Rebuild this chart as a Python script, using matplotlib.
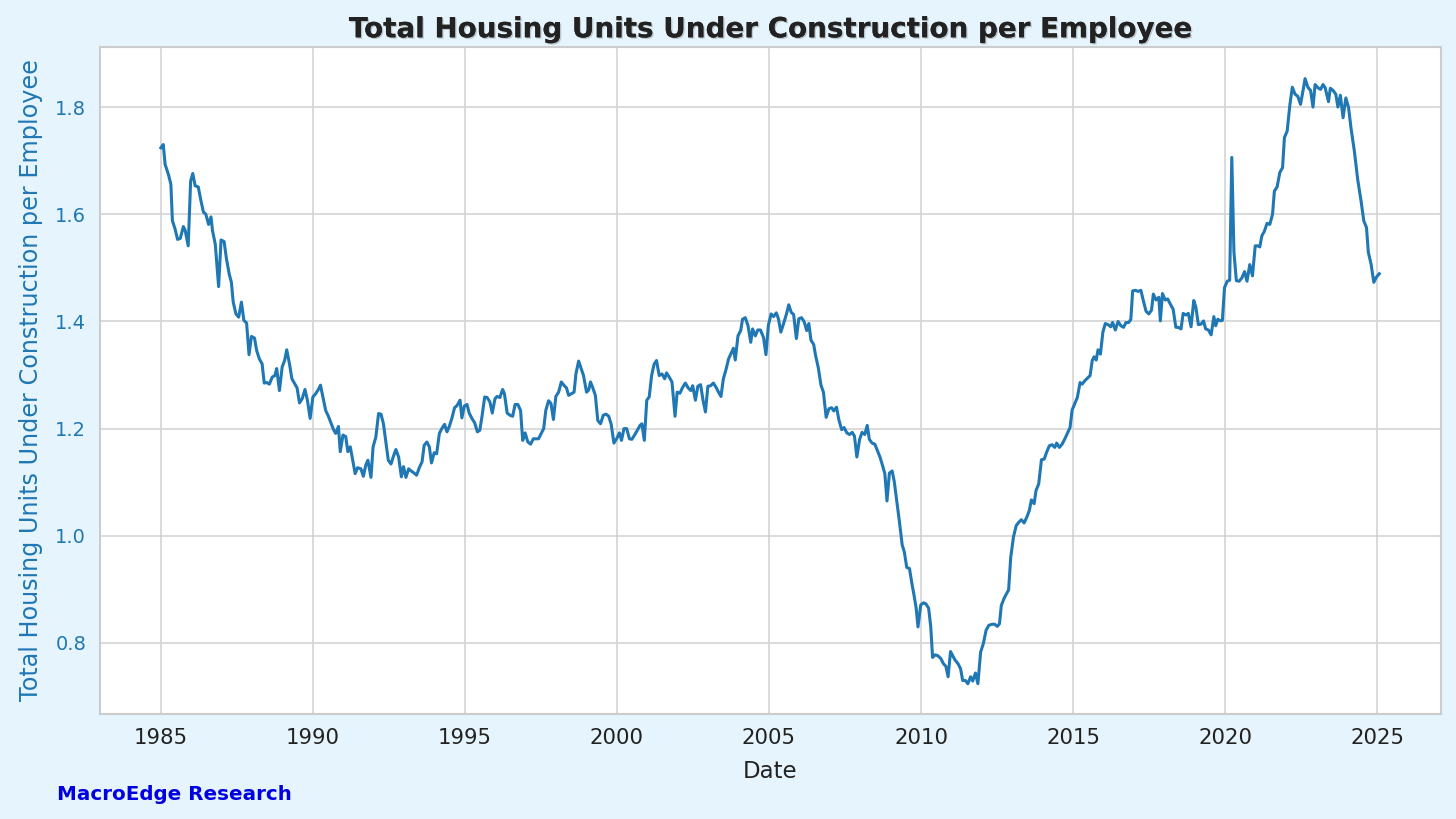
import numpy as np
import matplotlib.pyplot as plt
import matplotlib.patheffects as pe

# -----------------------------
# Data (decimal year, units under construction per employee)
# -----------------------------
yrs_1985 = [1985.00, 1985.08, 1985.14, 1985.25, 1985.33, 1985.38, 1985.47, 1985.55, 1985.64, 1985.74,
            1985.80, 1985.90, 1985.98, 1986.05, 1986.13, 1986.23, 1986.32, 1986.40, 1986.48, 1986.57,
            1986.65, 1986.70, 1986.79, 1986.90, 1986.98, 1987.08, 1987.16, 1987.25, 1987.32, 1987.38,
            1987.47, 1987.56, 1987.65, 1987.73, 1987.82, 1987.90, 1987.98, 1988.08, 1988.15, 1988.24,
            1988.33, 1988.40, 1988.48, 1988.57, 1988.66, 1988.75, 1988.81, 1988.90, 1988.99, 1989.07,
            1989.14, 1989.23, 1989.31, 1989.40, 1989.48, 1989.56, 1989.65, 1989.74, 1989.82, 1989.91,
            1990.00, 1990.09, 1990.18, 1990.25, 1990.33, 1990.42, 1990.51, 1990.59, 1990.68, 1990.75,
            1990.84, 1990.90, 1990.99, 1991.08, 1991.15, 1991.23]
val_1985 = [1.724, 1.730, 1.693, 1.674, 1.656, 1.588, 1.572, 1.553, 1.555, 1.577,
            1.570, 1.541, 1.662, 1.676, 1.653, 1.651, 1.625, 1.604, 1.600, 1.581,
            1.595, 1.569, 1.544, 1.465, 1.552, 1.549, 1.516, 1.488, 1.473, 1.436,
            1.414, 1.408, 1.436, 1.402, 1.397, 1.338, 1.372, 1.369, 1.346, 1.330,
            1.321, 1.285, 1.286, 1.283, 1.296, 1.299, 1.312, 1.271, 1.315, 1.327,
            1.347, 1.321, 1.293, 1.284, 1.276, 1.248, 1.256, 1.273, 1.253, 1.219,
            1.259, 1.265, 1.273, 1.281, 1.259, 1.234, 1.223, 1.211, 1.198, 1.191,
            1.204, 1.157, 1.188, 1.185, 1.157, 1.166]

yrs_1991 = [1991.39, 1991.47, 1991.58, 1991.66, 1991.74, 1991.81, 1991.91, 1991.98, 1992.07, 1992.16,
            1992.24, 1992.32, 1992.40, 1992.48, 1992.57, 1992.64, 1992.73, 1992.82, 1992.91, 1992.98,
            1993.06, 1993.15, 1993.23, 1993.33, 1993.41, 1993.50, 1993.59, 1993.66, 1993.75, 1993.83,
            1993.90, 1993.99, 1994.07, 1994.16, 1994.24, 1994.33, 1994.41, 1994.48, 1994.57, 1994.66,
            1994.74, 1994.84, 1994.90, 1994.98, 1995.07, 1995.14, 1995.23, 1995.32, 1995.41, 1995.49,
            1995.56, 1995.65, 1995.73, 1995.82, 1995.90, 1995.99, 1996.06, 1996.15, 1996.24, 1996.30,
            1996.39, 1996.48, 1996.57, 1996.65, 1996.74, 1996.83, 1996.90, 1996.98, 1997.07, 1997.16,
            1997.25, 1997.34, 1997.42, 1997.51, 1997.59, 1997.66, 1997.75, 1997.83, 1997.91]
val_1991 = [1.116, 1.127, 1.125, 1.111, 1.132, 1.141, 1.109, 1.166, 1.184, 1.228,
            1.227, 1.209, 1.175, 1.141, 1.134, 1.147, 1.161, 1.147, 1.110, 1.129,
            1.109, 1.125, 1.121, 1.117, 1.113, 1.127, 1.138, 1.169, 1.175, 1.166,
            1.136, 1.155, 1.153, 1.191, 1.200, 1.208, 1.194, 1.203, 1.219, 1.239,
            1.243, 1.253, 1.220, 1.242, 1.245, 1.229, 1.219, 1.211, 1.194, 1.197,
            1.222, 1.259, 1.258, 1.250, 1.229, 1.256, 1.260, 1.258, 1.273, 1.265,
            1.229, 1.225, 1.223, 1.245, 1.245, 1.234, 1.178, 1.192, 1.175, 1.171,
            1.181, 1.181, 1.181, 1.191, 1.200, 1.234, 1.252, 1.247, 1.217]

yrs_1998 = [1997.99, 1998.08, 1998.17, 1998.27, 1998.34, 1998.41, 1998.50, 1998.59, 1998.65, 1998.74,
            1998.83, 1998.90, 1999.00, 1999.07, 1999.13, 1999.20, 1999.29, 1999.37, 1999.46, 1999.55,
            1999.64, 1999.73, 1999.81, 1999.90, 1999.99, 2000.08, 2000.15, 2000.23, 2000.32, 2000.41,
            2000.49, 2000.58, 2000.67, 2000.76, 2000.82, 2000.90, 2000.98, 2001.06, 2001.14, 2001.22,
            2001.30, 2001.39, 2001.48, 2001.57, 2001.63, 2001.72, 2001.81, 2001.91, 2001.98, 2002.07,
            2002.16, 2002.25, 2002.34, 2002.43, 2002.49, 2002.58, 2002.66, 2002.75, 2002.83, 2002.91,
            2002.99, 2003.08, 2003.17, 2003.26, 2003.34, 2003.42, 2003.50, 2003.59, 2003.67, 2003.76,
            2003.83, 2003.89, 2003.98, 2004.07, 2004.13, 2004.22, 2004.31, 2004.40, 2004.46, 2004.55,
            2004.63, 2004.72, 2004.82, 2004.90]
val_1998 = [1.260, 1.268, 1.287, 1.280, 1.276, 1.262, 1.265, 1.268, 1.302, 1.326,
            1.311, 1.299, 1.268, 1.272, 1.287, 1.277, 1.262, 1.215, 1.209, 1.225,
            1.227, 1.223, 1.208, 1.173, 1.181, 1.192, 1.178, 1.200, 1.200, 1.181,
            1.180, 1.188, 1.197, 1.206, 1.209, 1.178, 1.253, 1.259, 1.299, 1.320,
            1.327, 1.299, 1.302, 1.293, 1.304, 1.296, 1.287, 1.223, 1.268, 1.266,
            1.277, 1.285, 1.276, 1.271, 1.280, 1.253, 1.279, 1.282, 1.253, 1.231,
            1.279, 1.280, 1.285, 1.277, 1.268, 1.260, 1.293, 1.311, 1.330, 1.341,
            1.350, 1.328, 1.373, 1.383, 1.404, 1.407, 1.392, 1.361, 1.386, 1.373,
            1.384, 1.384, 1.370, 1.338]

yrs_2005 = [2004.98, 2005.07, 2005.15, 2005.24, 2005.31, 2005.39, 2005.48, 2005.57, 2005.65, 2005.73,
            2005.81, 2005.90, 2005.98, 2006.07, 2006.16, 2006.24, 2006.31, 2006.38, 2006.47, 2006.53,
            2006.62, 2006.71, 2006.79, 2006.88, 2006.97, 2007.06, 2007.13, 2007.22, 2007.30, 2007.39,
            2007.47, 2007.56, 2007.65, 2007.74, 2007.81, 2007.89, 2007.98, 2008.06, 2008.15, 2008.23,
            2008.30, 2008.39, 2008.48, 2008.57, 2008.65, 2008.73, 2008.81, 2008.88, 2008.96, 2009.05,
            2009.12, 2009.20, 2009.29, 2009.38, 2009.45, 2009.53, 2009.62, 2009.69, 2009.77, 2009.84,
            2009.90, 2009.99, 2010.08, 2010.16, 2010.25, 2010.32, 2010.38, 2010.47, 2010.56, 2010.65,
            2010.73, 2010.82, 2010.89, 2010.97]
val_2005 = [1.393, 1.414, 1.409, 1.416, 1.405, 1.380, 1.396, 1.413, 1.431, 1.417,
            1.413, 1.368, 1.405, 1.407, 1.399, 1.383, 1.396, 1.365, 1.357, 1.337,
            1.314, 1.281, 1.268, 1.221, 1.237, 1.239, 1.233, 1.240, 1.216, 1.198,
            1.202, 1.192, 1.189, 1.193, 1.186, 1.147, 1.180, 1.193, 1.189, 1.206,
            1.180, 1.173, 1.171, 1.158, 1.147, 1.132, 1.116, 1.065, 1.117, 1.121,
            1.101, 1.066, 1.026, 0.983, 0.970, 0.941, 0.939, 0.914, 0.889, 0.865,
            0.830, 0.871, 0.875, 0.873, 0.865, 0.830, 0.773, 0.778, 0.776, 0.771,
            0.762, 0.756, 0.737, 0.784]

yrs_2011 = [2011.11, 2011.22, 2011.30, 2011.37, 2011.46, 2011.54, 2011.63, 2011.70, 2011.79, 2011.87,
            2011.96, 2012.05, 2012.14, 2012.23, 2012.34, 2012.42, 2012.51, 2012.58, 2012.64, 2012.73,
            2012.82, 2012.88, 2012.95, 2013.04, 2013.13, 2013.21, 2013.30, 2013.39, 2013.48, 2013.56,
            2013.63, 2013.72, 2013.78, 2013.87, 2013.96, 2014.05, 2014.13, 2014.22, 2014.31, 2014.40,
            2014.46, 2014.55, 2014.64, 2014.73, 2014.81, 2014.90, 2014.97, 2015.05, 2015.14, 2015.23,
            2015.30, 2015.38, 2015.47, 2015.56, 2015.63, 2015.69, 2015.76, 2015.82, 2015.90, 2015.98,
            2016.06, 2016.15, 2016.24, 2016.30, 2016.39, 2016.48, 2016.57, 2016.66, 2016.74, 2016.83,
            2016.90, 2016.96, 2017.05, 2017.14, 2017.23, 2017.31, 2017.40, 2017.49, 2017.58, 2017.64,
            2017.73, 2017.82]
val_2011 = [0.769, 0.761, 0.752, 0.730, 0.730, 0.724, 0.737, 0.729, 0.744, 0.724,
            0.783, 0.799, 0.824, 0.833, 0.835, 0.835, 0.831, 0.836, 0.870, 0.883,
            0.893, 0.899, 0.960, 0.998, 1.019, 1.025, 1.030, 1.024, 1.035, 1.047,
            1.067, 1.060, 1.084, 1.097, 1.142, 1.143, 1.156, 1.168, 1.170, 1.165,
            1.173, 1.165, 1.171, 1.181, 1.191, 1.202, 1.235, 1.246, 1.258, 1.286,
            1.283, 1.289, 1.294, 1.299, 1.327, 1.334, 1.328, 1.347, 1.339, 1.380,
            1.396, 1.394, 1.390, 1.398, 1.384, 1.400, 1.392, 1.389, 1.398, 1.398,
            1.404, 1.457, 1.458, 1.456, 1.458, 1.439, 1.419, 1.414, 1.421, 1.451,
            1.440, 1.445]

yrs_2018 = [2017.87, 2017.94, 2018.03, 2018.11, 2018.20, 2018.29, 2018.38, 2018.46, 2018.55, 2018.62,
            2018.71, 2018.79, 2018.88, 2018.97, 2019.04, 2019.12, 2019.21, 2019.29, 2019.36, 2019.45,
            2019.54, 2019.63, 2019.69, 2019.76, 2019.85, 2019.91, 2019.98, 2020.07, 2020.15, 2020.22,
            2020.29, 2020.37, 2020.46, 2020.55, 2020.64, 2020.72, 2020.81, 2020.90, 2020.99, 2021.07,
            2021.14, 2021.21, 2021.29, 2021.38, 2021.47, 2021.56, 2021.62, 2021.71, 2021.80, 2021.89,
            2021.95, 2022.04, 2022.13, 2022.21, 2022.30, 2022.39, 2022.48, 2022.57, 2022.63, 2022.72,
            2022.81, 2022.89, 2022.96, 2023.05, 2023.14, 2023.22, 2023.29, 2023.40, 2023.46, 2023.55,
            2023.64, 2023.71, 2023.79, 2023.88, 2023.97, 2024.06, 2024.14, 2024.25, 2024.36, 2024.47,
            2024.56, 2024.65, 2024.71, 2024.80, 2024.89, 2024.98, 2025.07]
val_2018 = [1.401, 1.452, 1.440, 1.442, 1.432, 1.423, 1.389, 1.389, 1.386, 1.415,
            1.412, 1.415, 1.390, 1.439, 1.426, 1.394, 1.395, 1.401, 1.386, 1.384,
            1.375, 1.409, 1.392, 1.404, 1.401, 1.402, 1.463, 1.475, 1.477, 1.706,
            1.530, 1.476, 1.475, 1.481, 1.493, 1.475, 1.506, 1.485, 1.541, 1.541,
            1.539, 1.560, 1.568, 1.583, 1.581, 1.600, 1.643, 1.651, 1.678, 1.687,
            1.743, 1.755, 1.804, 1.837, 1.824, 1.820, 1.805, 1.833, 1.853, 1.837,
            1.831, 1.800, 1.842, 1.836, 1.833, 1.842, 1.836, 1.810, 1.835, 1.831,
            1.824, 1.800, 1.822, 1.780, 1.817, 1.799, 1.761, 1.718, 1.665, 1.625,
            1.588, 1.575, 1.529, 1.507, 1.473, 1.483, 1.489]

years = np.array(yrs_1985 + yrs_1991 + yrs_1998 + yrs_2005 + yrs_2011 + yrs_2018)
values = np.array(val_1985 + val_1991 + val_1998 + val_2005 + val_2011 + val_2018)

x_ticks = [1985, 1990, 1995, 2000, 2005, 2010, 2015, 2020, 2025]
y_ticks = [0.8, 1.0, 1.2, 1.4, 1.6, 1.8]

# -----------------------------
# Style
# -----------------------------
bg = '#e6f5fd'
blue = '#1f77b4'
grid_c = '#d4d4d4'

fig = plt.figure(figsize=(14.56, 8.19), dpi=100, facecolor=bg)
ax = fig.add_axes([0.0687, 0.1282, 0.921, 0.8144])
ax.set_facecolor('white')

ax.plot(years, values, color=blue, linewidth=2.2)

ax.set_xlim(1983.0, 2027.1)
ax.set_ylim(0.6675, 1.912)
ax.set_xticks(x_ticks)
ax.set_xticklabels([str(t) for t in x_ticks])
ax.set_yticks(y_ticks)
ax.set_yticklabels([f"{t:.1f}" for t in y_ticks])

ax.grid(True, color=grid_c, linewidth=1.2)
ax.set_axisbelow(True)
for s in ax.spines.values():
    s.set_color('#cccccc')
    s.set_linewidth(1.5)
ax.tick_params(axis='both', length=0, pad=10)
ax.tick_params(axis='y', labelcolor=blue, labelsize=14)
ax.tick_params(axis='x', labelcolor='#222222', labelsize=15.3)

ax.set_xlabel("Date", fontsize=16.5, color='#222222', labelpad=9)
ax.set_ylabel("Total Housing Units Under Construction per Employee",
              fontsize=17.2, color=blue, labelpad=9)

title = ax.set_title("Total Housing Units Under Construction per Employee",
                     fontsize=20, fontweight='bold', color='#222222', pad=7)
title.set_path_effects([pe.withSimplePatchShadow(offset=(1, -1), alpha=0.2), pe.Normal()])

fig.text(0.039, 0.0305, "MacroEdge Research", fontsize=14.3, fontweight='bold',
         color='#0000e0', ha='left', va='center')

fig.savefig("out.png", dpi=100, facecolor=bg)
